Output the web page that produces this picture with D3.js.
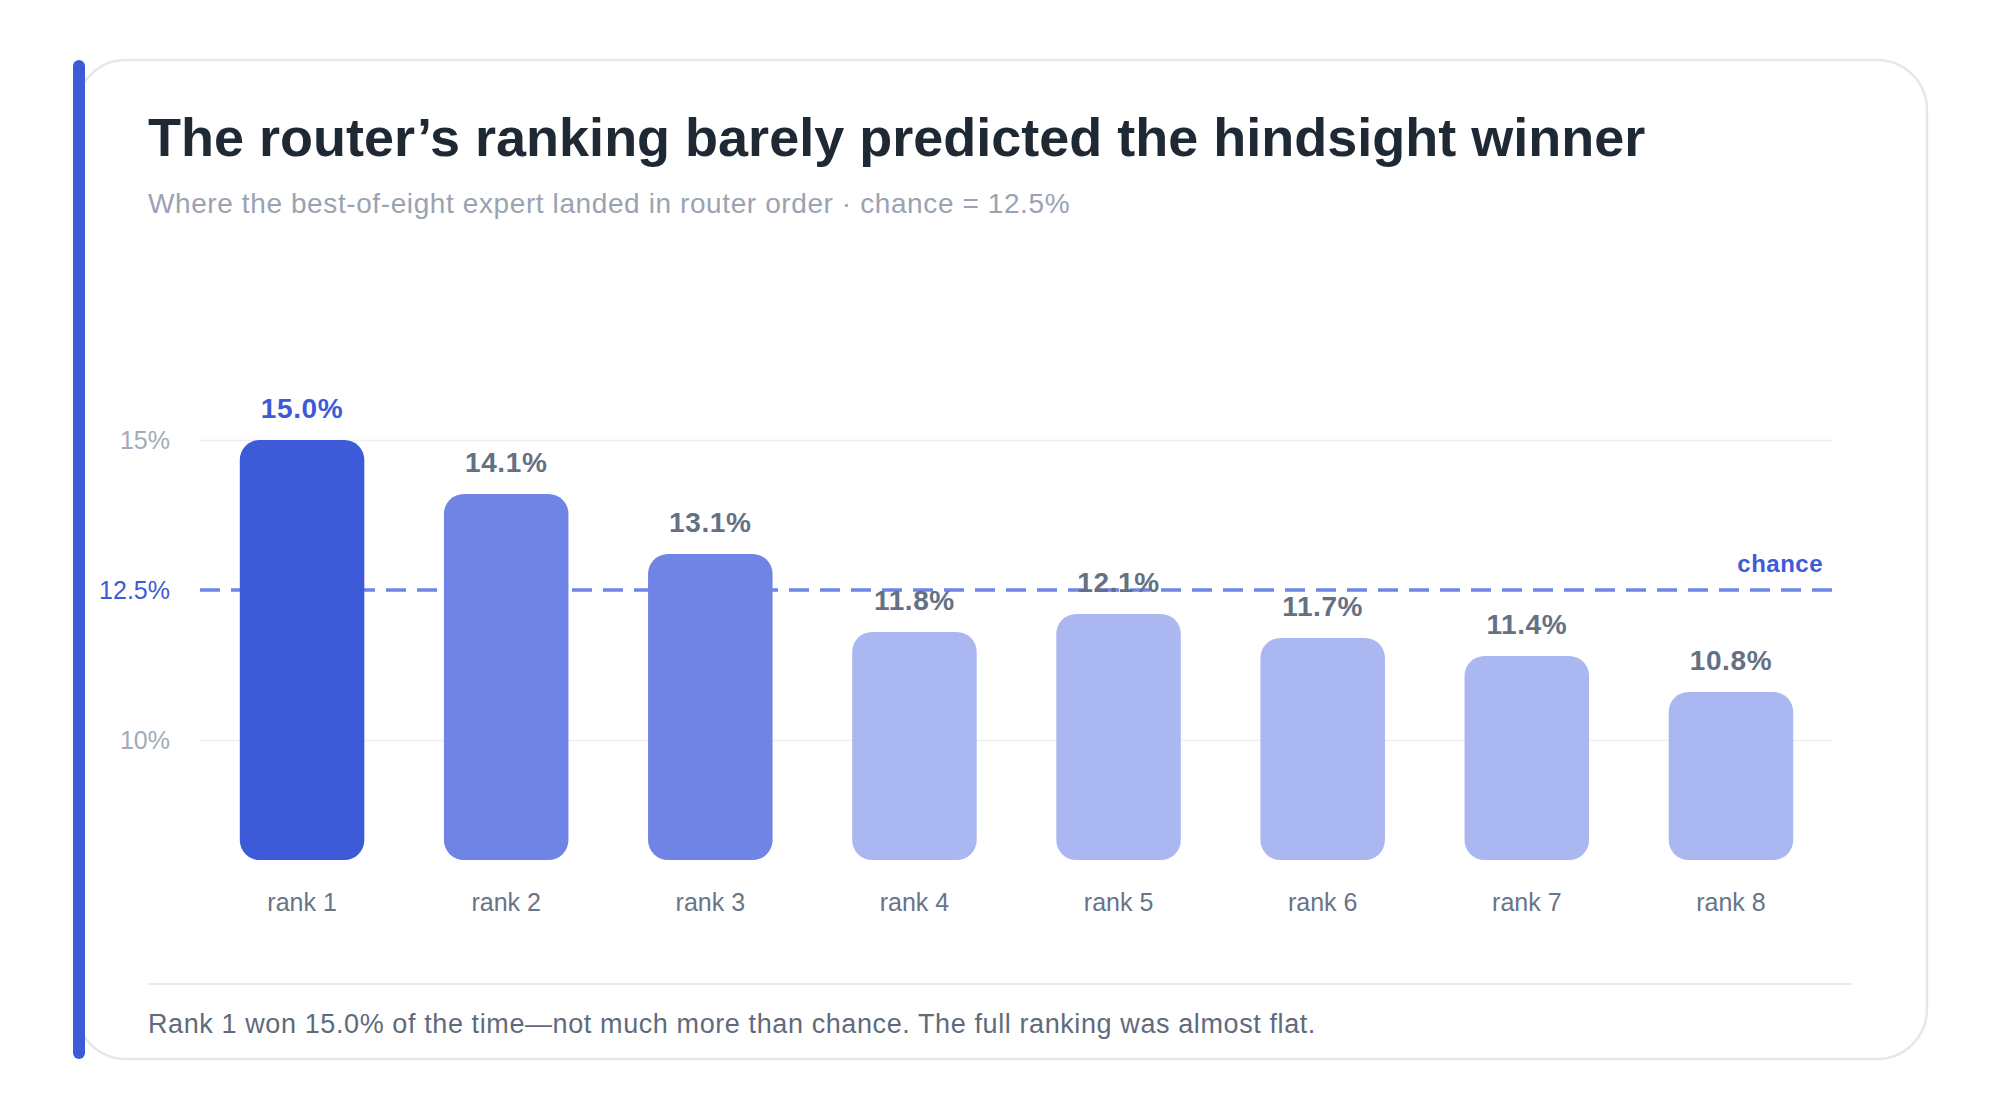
<!DOCTYPE html>
<html>
<head>
<meta charset="utf-8">
<script src="https://cdn.jsdelivr.net/npm/d3@7"></script>
<style>
  html, body { margin: 0; padding: 0; background: #fff; }
  svg { display: block; font-family: "Liberation Sans", Arial, sans-serif; }
</style>
</head>
<body>
<svg id="chart" width="2000" height="1120"></svg>
<script>
// data
var ranks = ["rank 1", "rank 2", "rank 3", "rank 4", "rank 5", "rank 6", "rank 7", "rank 8"];
var winShare = [15.0, 14.1, 13.1, 11.8, 12.1, 11.7, 11.4, 10.8];
var barTone = ["strong", "mid", "mid", "light", "light", "light", "light", "light"];
var yTicks = [10, 12.5, 15];
var yTickLabels = ["10%", "12.5%", "15%"];
var chance = 12.5;

(function () {
  var svg = d3.select("#chart");

  var colors = { strong: "#3d5bd9", mid: "#7084e6", light: "#abb7f1" };

  // card
  svg.append("rect")
    .attr("x", 76).attr("y", 60)
    .attr("width", 1851).attr("height", 999)
    .attr("rx", 50)
    .attr("fill", "#fff")
    .attr("stroke", "#e4e7ec")
    .attr("stroke-width", 2.5);

  svg.append("rect")
    .attr("x", 73).attr("y", 60)
    .attr("width", 12).attr("height", 999)
    .attr("rx", 6)
    .attr("fill", "#3d5bd9");

  svg.append("text")
    .attr("x", 148).attr("y", 156)
    .attr("font-size", 54).attr("font-weight", 700)
    .attr("fill", "#1f2933")
    .text("The router’s ranking barely predicted the hindsight winner");

  svg.append("text")
    .attr("x", 148).attr("y", 213)
    .attr("font-size", 28)
    .attr("letter-spacing", 0.6)
    .attr("fill", "#9aa3b1")
    .text("Where the best-of-eight expert landed in router order · chance = 12.5%");

  var x = d3.scaleBand()
    .domain(ranks)
    .range([200, 1833])
    .paddingInner(0.39)
    .paddingOuter(0.195);

  var y = d3.scaleLinear()
    .domain([8, 15])
    .range([860, 440]);

  // gridlines + tick labels
  var yAxis = d3.axisLeft(y)
    .tickValues(yTicks)
    .tickSize(-(1833 - 200))
    .tickPadding(30)
    .tickFormat(function (d, i) { return yTickLabels[i]; });

  var gAxis = svg.append("g")
    .attr("transform", "translate(200,0)")
    .call(yAxis);
  gAxis.select(".domain").remove();
  gAxis.selectAll(".tick line")
    .attr("stroke", function (d) { return d === chance ? "none" : "#eceef2"; })
    .attr("stroke-width", 1.5);
  gAxis.selectAll(".tick text")
    .attr("font-size", 25)
    .attr("font-family", "Liberation Sans, Arial, sans-serif")
    .attr("fill", function (d) { return d === chance ? "#3d5bd9" : "#a3abb8"; })
    .attr("dy", "0.35em");

  // chance line sits under the bars
  svg.append("line")
    .attr("x1", 200).attr("x2", 1833)
    .attr("y1", y(chance)).attr("y2", y(chance))
    .attr("stroke", "#7084e6")
    .attr("stroke-width", 3.5)
    .attr("stroke-dasharray", "20 11");

  svg.append("text")
    .attr("x", 1823).attr("y", y(chance) - 18)
    .attr("text-anchor", "end")
    .attr("font-size", 24).attr("font-weight", 700)
    .attr("letter-spacing", 0.5)
    .attr("fill", "#3d5bd9")
    .text("chance");

  var bars = svg.append("g");
  bars.selectAll("rect")
    .data(winShare)
    .enter().append("rect")
    .attr("x", function (d, i) { return x(ranks[i]); })
    .attr("y", function (d) { return y(d); })
    .attr("width", x.bandwidth())
    .attr("height", function (d) { return y(8) - y(d); })
    .attr("rx", 20)
    .attr("fill", function (d, i) { return colors[barTone[i]]; });

  bars.selectAll("text.val")
    .data(winShare)
    .enter().append("text")
    .attr("class", "val")
    .attr("x", function (d, i) { return x(ranks[i]) + x.bandwidth() / 2; })
    .attr("y", function (d) { return y(d) - 22; })
    .attr("text-anchor", "middle")
    .attr("font-size", 28).attr("font-weight", 700)
    .attr("letter-spacing", 0.6)
    .attr("fill", function (d, i) { return i === 0 ? "#3d5bd9" : "#647084"; })
    .text(function (d) { return d.toFixed(1) + "%"; });

  bars.selectAll("text.cat")
    .data(ranks)
    .enter().append("text")
    .attr("class", "cat")
    .attr("x", function (d) { return x(d) + x.bandwidth() / 2; })
    .attr("y", 911)
    .attr("text-anchor", "middle")
    .attr("font-size", 25)
    .attr("fill", "#687487")
    .text(function (d) { return d; });

  // footer
  svg.append("line")
    .attr("x1", 148).attr("x2", 1852)
    .attr("y1", 984).attr("y2", 984)
    .attr("stroke", "#e8ebf0")
    .attr("stroke-width", 2);

  svg.append("text")
    .attr("x", 148).attr("y", 1033)
    .attr("font-size", 27)
    .attr("letter-spacing", 0.6)
    .attr("fill", "#5f6b7d")
    .text("Rank 1 won 15.0% of the time—not much more than chance. The full ranking was almost flat.");
})();
</script>
</body>
</html>
